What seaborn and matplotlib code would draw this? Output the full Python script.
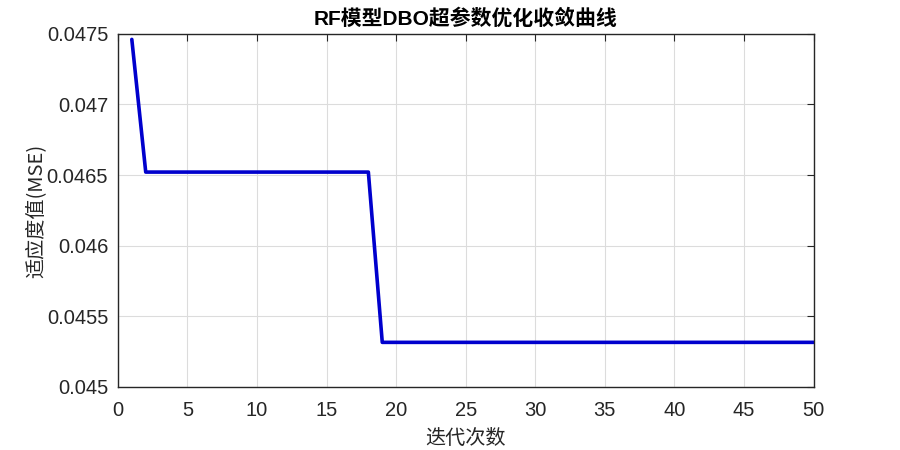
import numpy as np
import pandas as pd
import matplotlib
matplotlib.use('Agg')
import matplotlib.pyplot as plt
import seaborn as sns

# Convergence curve data
iterations = list(range(1, 51))
fitness = [0.04746] + [0.046521] * 17 + [0.045316] * 32

title = 'RF模型DBO超参数优化收敛曲线'
xlabel = '迭代次数'
ylabel = '适应度值(MSE)'

df = pd.DataFrame({'iter': iterations, 'mse': fitness})

sns.set_theme(style='whitegrid')
plt.rcParams['font.family'] = ['Liberation Sans', 'Noto Sans CJK SC', 'DejaVu Sans']

fig = plt.figure(figsize=(9, 4.5), dpi=100)
ax = fig.add_axes([0.131, 0.14, 0.773, 0.785])

sns.lineplot(data=df, x='iter', y='mse', color='#0000CD', linewidth=2.6, ax=ax)

ax.set_xlim(0, 50)
ax.set_ylim(0.045, 0.0475)
ax.set_xticks(np.arange(0, 51, 5))
ax.set_yticks([0.045, 0.0455, 0.046, 0.0465, 0.047, 0.0475])
ax.set_yticklabels(['0.045', '0.0455', '0.046', '0.0465', '0.047', '0.0475'])

ax.grid(True, color='#DCDCDC', linewidth=0.8)
for s in ax.spines.values():
    s.set_visible(True)
    s.set_color('#262626')
    s.set_linewidth(1.0)
ax.set_facecolor('white')
ax.tick_params(direction='in', length=5, width=0.8, colors='#262626',
               labelsize=14.5, top=True, right=True, labeltop=False, labelright=False)
ax.tick_params(axis='x', pad=10)
ax.tick_params(axis='y', pad=7)

ax.set_title(title, fontsize=15, fontweight='bold', color='black', pad=6,
             family=['Liberation Sans', 'Noto Sans CJK SC'])
ax.set_xlabel(xlabel, fontsize=14.5, color='#262626', labelpad=6,
              family=['Noto Sans CJK SC'])
ax.set_ylabel(ylabel, fontsize=14.5, color='#262626', labelpad=0,
              family=['Noto Sans CJK SC'])

fig.savefig('out.png', dpi=100, facecolor='white')
